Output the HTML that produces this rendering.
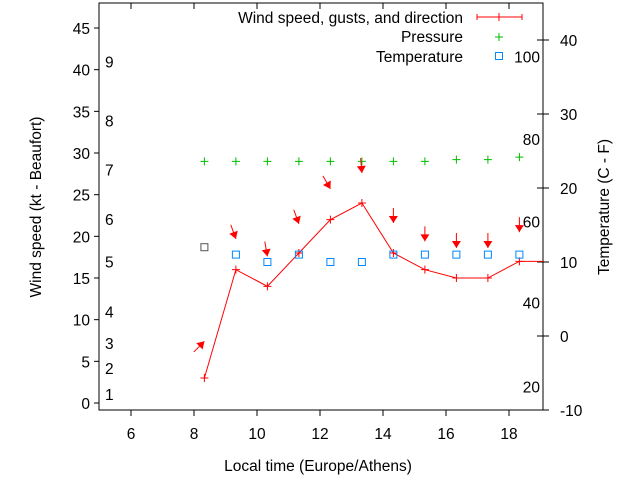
<!DOCTYPE html>
<html><head><meta charset="utf-8"><style>
body{margin:0;background:#fff}
svg{display:block;font-family:"Liberation Sans",sans-serif;font-size:15.5px}
</style></head><body>
<svg id="c" width="640" height="480">
<rect x="0" y="0" width="640" height="480" fill="#fff"/>
<g id="g"></g>
</svg>
<script>
const hours=[8.33,9.33,10.33,11.33,12.33,13.33,14.33,15.33,16.33,17.33,18.33];
const windSpeed=[3,16,14,18,22,24,18,16,15,15,17];
const gusts=[7.4,19.7,17.6,21.5,25.7,27.6,21.6,19.4,18.6,18.6,20.5];
const windFrom=[225,340,350,340,330,355,0,0,0,0,0];
const pressure=[29,29,29,29,29,29,29,29,29.2,29.2,29.5];
const temperature=[12,11,10,11,10,10,11,11,11,11,11];
const xTicks=[6,8,10,12,14,16,18];
const yTicks=[0,5,10,15,20,25,30,35,40,45];
const y2Ticks=[-10,0,10,20,30,40];
const beaufort=[[1,1.1],[2,4.2],[3,7.2],[4,11],[5,17],[6,22.1],[7,28],[8,33.9],[9,41]];
const fahr=[[100,37.8],[80,26.6],[60,15.5],[40,4.5],[20,-6.8]];
const L=99,R=543,T=3,B=410;
const X=v=>99.5+(v-5)*31.5;
const Y=v=>403-v*8.333;
const Y2=v=>410-(v+10)*7.4;
const g=document.getElementById('g');const NS='http://www.w3.org/2000/svg';
function el(t,a,p){const e=document.createElementNS(NS,t);for(const k in a)e.setAttribute(k,a[k]);(p||g).appendChild(e);return e;}
function txt(s,a){const e=el('text',a);e.textContent=s;return e;}
let e;
e=el('rect',{x:L,y:T,width:R-L,height:B-T,fill:'none',stroke:'#000','stroke-width':1});

xTicks.forEach(v=>{const x=X(v);
e=el('line',{x1:x,y1:B,x2:x,y2:B+6,stroke:'#000'});
e=el('line',{x1:x,y1:T,x2:x,y2:T+6,stroke:'#000'});
e=txt(v,{x:x,y:B+29,'text-anchor':'middle'});});
yTicks.forEach(v=>{const y=Y(v);
e=el('line',{x1:L,y1:y,x2:L-5,y2:y,stroke:'#000'});
e=txt(v,{x:L-9,y:y+6,'text-anchor':'end'});});
y2Ticks.forEach(v=>{const y=Y2(v);
e=el('line',{x1:R-6,y1:y,x2:R+6,y2:y,stroke:'#000'});
e=txt(v,{x:R+17,y:y+6,'text-anchor':'start'});});
beaufort.forEach(([n,v])=>{e=txt(n,{x:105,y:Y(v)+6});});
fahr.forEach(([n,v])=>{e=txt(n,{x:540,y:Y2(v)+6,'text-anchor':'end'});});
e=txt('Wind speed (kt - Beaufort)',{transform:'translate(41,207) rotate(-90)','text-anchor':'middle'});
e=txt('Temperature (C - F)',{transform:'translate(609,207) rotate(-90)','text-anchor':'middle'});
e=txt('Local time (Europe/Athens)',{x:318,y:471,'text-anchor':'middle'});
let pts=hours.map((h,i)=>X(h)+','+Y(windSpeed[i])).join(' ')+' '+R+','+Y(windSpeed[windSpeed.length-1]);
e=el('polyline',{points:pts,fill:'none',stroke:'#f00','stroke-width':1});
function plus(x,y,c,name){e=el('path',{d:`M${x-4},${y}h8M${x},${y-4}v8`,stroke:c,'stroke-width':1});}
hours.forEach((h,i)=>{plus(X(h),Y(windSpeed[i]),'#f00','wind-point');
plus(X(h),Y(pressure[i]),'#0b0','pressure-point');
e=el('rect',{x:X(h)-3.5,y:Y2(temperature[i])-3.5,width:7,height:7,fill:'none',stroke:i==0?'#555':'#08f','stroke-width':1});
const to=(windFrom[i]+180)*Math.PI/180,dx=Math.sin(to),dy=-Math.cos(to);
const hx=X(h),hy=Y(gusts[i]),len=15,tx=hx-dx*len,ty=hy-dy*len;
e=el('line',{x1:tx,y1:ty,x2:hx,y2:hy,stroke:'#f00'});
const px=-dy,py=dx,bx=hx-dx*7,by=hy-dy*7;
e=el('polygon',{points:`${hx},${hy} ${bx+px*4.5},${by+py*4.5} ${bx-px*4.5},${by-py*4.5}`,fill:'#f00'});});
e=txt('Wind speed, gusts, and direction',{x:463,y:23,'text-anchor':'end'});
e=el('path',{d:'M477,17h45M477,14v6M522,14v6M499,13v8',stroke:'#f00','stroke-width':1});
e=txt('Pressure',{x:463,y:42,'text-anchor':'end'});
plus(499,37,'#0b0','legend-pressure-sample');
e=txt('Temperature',{x:463,y:62,'text-anchor':'end'});
e=el('rect',{x:495.5,y:52.5,width:7,height:7,fill:'none',stroke:'#08f'});
</script>
</body></html>
